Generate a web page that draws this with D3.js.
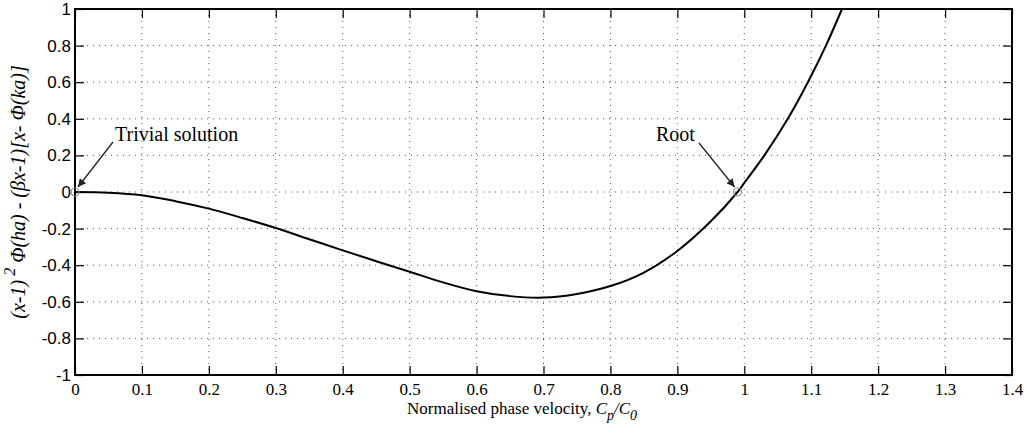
<!DOCTYPE html>
<html>
<head>
<meta charset="utf-8">
<script src="https://cdn.jsdelivr.net/npm/d3@7"></script>
<style>
  body { margin: 0; background: #fff; }
</style>
</head>
<body>
<script>
// values
var xVals = [0, 0.05, 0.1, 0.15, 0.2, 0.25, 0.3, 0.35, 0.4, 0.45, 0.5, 0.55, 0.6, 0.65, 0.7, 0.75, 0.8, 0.85, 0.9, 0.95, 0.99, 1.0, 1.03, 1.065, 1.095, 1.122, 1.146];
var yVals = [0, -0.004, -0.018, -0.05, -0.091, -0.142, -0.197, -0.258, -0.319, -0.378, -0.436, -0.494, -0.542, -0.569, -0.577, -0.557, -0.514, -0.44, -0.322, -0.16, 0, 0.05, 0.2, 0.4, 0.6, 0.8, 1.0];
var xTicks = [0, 0.1, 0.2, 0.3, 0.4, 0.5, 0.6, 0.7, 0.8, 0.9, 1, 1.1, 1.2, 1.3, 1.4];
var yTicks = [-1, -0.8, -0.6, -0.4, -0.2, 0, 0.2, 0.4, 0.6, 0.8, 1];
var markX = [0, 0.99],
    markY = [0, 0];
var notes = ["Trivial solution", "Root"];

function drawChart(){

  var W = 1029, H = 432;
  var left = 75, right = 1012, top = 9, bottom = 375;

  var svg = d3.select("body").append("svg")
      .attr("width", W)
      .attr("height", H);

  var x = d3.scaleLinear().domain([0, 1.4]).range([left, right]);
  var y = d3.scaleLinear().domain([-1, 1]).range([bottom, top]);

  var fmt = function(d){ return String(+d.toFixed(1)); };

  // dotted grid
  svg.append("g").selectAll("line").data(xTicks).enter().append("line")
      .attr("x1", d => x(d)).attr("x2", d => x(d))
      .attr("y1", top).attr("y2", bottom)
      .attr("stroke", "#555").attr("stroke-width", 1)
      .attr("stroke-dasharray", "1,5");
  svg.append("g").selectAll("line").data(yTicks).enter().append("line")
      .attr("x1", left).attr("x2", right)
      .attr("y1", d => y(d)).attr("y2", d => y(d))
      .attr("stroke", "#555").attr("stroke-width", 1)
      .attr("stroke-dasharray", "1,5");

  // curve
  var pts = xVals.map((v, i) => [v, yVals[i]]);
  svg.append("path")
      .datum(pts)
      .attr("fill", "none")
      .attr("stroke", "#000")
      .attr("stroke-width", 2)
      .attr("d", d3.line().x(d => x(d[0])).y(d => y(d[1])).curve(d3.curveCatmullRom));

  // axes, ticks inward on all four sides
  var bx = svg.append("g").attr("transform", "translate(0," + bottom + ")")
      .call(d3.axisBottom(x).tickValues(xTicks).tickFormat(fmt).tickSize(-9).tickPadding(8));
  bx.selectAll("text").attr("font-family", "'Liberation Serif', serif").attr("font-size", 17).attr("fill", "#000");

  var ly = svg.append("g").attr("transform", "translate(" + left + ",0)")
      .call(d3.axisLeft(y).tickValues(yTicks).tickFormat(fmt).tickSize(-9).tickPadding(4));
  ly.selectAll("text").attr("font-family", "'Liberation Sans', Arial, sans-serif").attr("font-size", 17).attr("fill", "#000");

  svg.append("g").attr("transform", "translate(0," + top + ")")
      .call(d3.axisTop(x).tickValues(xTicks).tickFormat("").tickSize(-9));
  svg.append("g").attr("transform", "translate(" + right + ",0)")
      .call(d3.axisRight(y).tickValues(yTicks).tickFormat("").tickSize(-9));

  svg.selectAll(".domain").remove();
  svg.selectAll(".tick line").attr("stroke", "#000").attr("stroke-width", 1.2);

  svg.append("rect")
      .attr("x", left).attr("y", top)
      .attr("width", right - left).attr("height", bottom - top)
      .attr("fill", "none").attr("stroke", "#000").attr("stroke-width", 2);

  // markers
  svg.append("g").selectAll("circle").data(markX).enter().append("circle")
      .attr("cx", d => x(d)).attr("cy", (d, i) => y(markY[i]))
      .attr("r", 4)
      .attr("fill", "none").attr("stroke", "#888").attr("stroke-width", 1.2);

  // arrows + notes
  svg.append("defs").append("marker")
      .attr("id", "ah").attr("viewBox", "0 0 10 10")
      .attr("refX", 10).attr("refY", 5)
      .attr("markerWidth", 10).attr("markerHeight", 8)
      .attr("markerUnits", "userSpaceOnUse")
      .attr("orient", "auto")
      .append("path").attr("d", "M0,0 L10,5 L0,10 z").attr("fill", "#222");

  svg.append("line")
      .attr("x1", 113).attr("y1", 142)
      .attr("x2", x(markX[0]) + 3).attr("y2", y(markY[0]) - 5)
      .attr("stroke", "#222").attr("stroke-width", 1.3)
      .attr("marker-end", "url(#ah)");
  svg.append("text")
      .attr("x", 115).attr("y", 141)
      .attr("font-family", "'Liberation Serif', serif").attr("font-size", 20)
      .text(notes[0]);

  svg.append("line")
      .attr("x1", 699).attr("y1", 143)
      .attr("x2", x(markX[1]) - 3).attr("y2", y(markY[1]) - 5)
      .attr("stroke", "#222").attr("stroke-width", 1.3)
      .attr("marker-end", "url(#ah)");
  svg.append("text")
      .attr("x", 656).attr("y", 141)
      .attr("font-family", "'Liberation Serif', serif").attr("font-size", 20)
      .text(notes[1]);

  // axis titles
  var xt = svg.append("text")
      .attr("x", 407).attr("y", 414)
      .attr("font-family", "'Liberation Serif', serif").attr("font-size", 17);
  xt.append("tspan").text("Normalised phase velocity, ");
  xt.append("tspan").attr("font-style", "italic").text("C");
  xt.append("tspan").attr("font-style", "italic").attr("font-size", 14).attr("dy", 6).text("p");
  xt.append("tspan").attr("font-style", "italic").attr("dy", -6).text("/C");
  xt.append("tspan").attr("font-style", "italic").attr("font-size", 14).attr("dy", 6).text("0");

  var yt = svg.append("text")
      .attr("transform", "translate(25," + ((top + bottom) / 2) + ") rotate(-90)")
      .attr("text-anchor", "middle")
      .attr("font-family", "'Liberation Serif', serif").attr("font-size", 20)
      .attr("font-style", "italic");
  yt.append("tspan").text("(x-1)");
  yt.append("tspan").attr("font-size", 16).attr("dy", -10).text(" 2");
  yt.append("tspan").attr("dy", 10).text(" \u03A6(ha) - (\u03B2x-1)[x- \u03A6(ka)]");
}
drawChart();
</script>
</body>
</html>
